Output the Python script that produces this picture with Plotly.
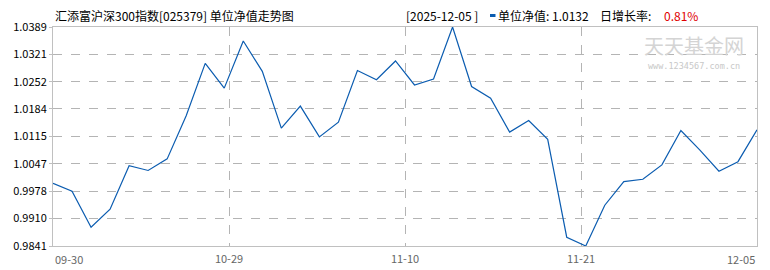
import plotly.graph_objects as go

# ---------------- data ----------------
dates = ["2025-09-30", "2025-10-10", "2025-10-17", "2025-10-20", "2025-10-21",
         "2025-10-22", "2025-10-23", "2025-10-24", "2025-10-27", "2025-10-28",
         "2025-10-29", "2025-10-30", "2025-10-31", "2025-11-03", "2025-11-04",
         "2025-11-05", "2025-11-06", "2025-11-07", "2025-11-10", "2025-11-11",
         "2025-11-12", "2025-11-13", "2025-11-14", "2025-11-17", "2025-11-18",
         "2025-11-19", "2025-11-20", "2025-11-21", "2025-11-24", "2025-11-25",
         "2025-11-26", "2025-11-27", "2025-11-28", "2025-12-01", "2025-12-02",
         "2025-12-03", "2025-12-04", "2025-12-05"]
nav = [0.9998, 0.9978, 0.9888, 0.9933, 1.0042, 1.0030, 1.0059, 1.0167, 1.0298, 1.0236,
       1.0354, 1.0278, 1.0136, 1.0191, 1.0114, 1.0151, 1.0280, 1.0257, 1.0304, 1.0244,
       1.0259, 1.0389, 1.0240, 1.0211, 1.0126, 1.0155, 1.0108, 0.9863, 0.9841, 0.9943,
       1.0002, 1.0008, 1.0044, 1.0130, 1.0081, 1.0028, 1.0052, 1.0132]
x_tick_labels = ["09-30", "10-29", "11-10", "11-21", "12-05"]
y_tick_labels = ["0.9841", "0.9910", "0.9978", "1.0047", "1.0115",
                 "1.0184", "1.0252", "1.0321", "1.0389"]
title_text = "汇添富沪深300指数[025379] 单位净值走势图"
last_date = "2025-12-05"
last_nav = "1.0132"
day_growth = "0.81%"

# ---------------- layout constants ----------------
W, H = 770, 270
ML, MR, MT, MB = 53, 13, 27, 24
PW, PH = W - ML - MR, H - MT - MB
FONT = "Noto Sans CJK SC"


def px_x(px):
    return (px - ML) / PW


def px_y(py):
    return (H - MB - py) / PH


n = len(dates)
tick_pos = [i * (n - 1) / 4 for i in range(5)]

fig = go.Figure()
fig.add_trace(go.Scatter(
    x=dates, y=nav, mode="lines",
    line=dict(color="#0b5cb0", width=1.2),
    hoverinfo="x+y", showlegend=False,
))

fig.update_layout(
    width=W, height=H,
    margin=dict(l=ML, r=MR, t=MT, b=MB, pad=0),
    paper_bgcolor="white", plot_bgcolor="white",
    font=dict(family=FONT, size=11, color="#000"),
    xaxis=dict(
        type="category", range=[0, n - 1], automargin=False,
        tickmode="array", tickvals=tick_pos[1:4], ticktext=x_tick_labels[1:4],
        showgrid=True, gridcolor="#b4b4b4", griddash="dash", gridwidth=1,
        showline=True, linecolor="#c0c0c0", linewidth=1, mirror=True,
        ticks="", ticklabelstandoff=3,
        tickfont=dict(color="#666", size=11, family=FONT),
        zeroline=False, fixedrange=True,
    ),
    yaxis=dict(
        range=[float(y_tick_labels[0]), float(y_tick_labels[-1])], automargin=False,
        tickmode="array", tickvals=[float(v) for v in y_tick_labels], ticktext=y_tick_labels,
        showgrid=True, gridcolor="#b4b4b4", griddash="dash", gridwidth=1,
        showline=True, linecolor="#c0c0c0", linewidth=1, mirror=True,
        ticks="outside", ticklen=3, tickcolor="#c0c0c0",
        tickfont=dict(color="#000", size=11, family=FONT),
        zeroline=False, fixedrange=True,
    ),
)

ann = []
# first / last x labels (left / right aligned to plot edges)
ann.append(dict(x=dates[0], y=0, xref="x", yref="paper", text=x_tick_labels[0],
                showarrow=False, xanchor="left", yanchor="top", yshift=-3,
                font=dict(color="#666", size=11, family=FONT)))
ann.append(dict(x=dates[-1], y=0, xref="x", yref="paper", text=x_tick_labels[-1],
                showarrow=False, xanchor="right", yanchor="top", yshift=-3,
                font=dict(color="#666", size=11, family=FONT)))
# title
ann.append(dict(x=px_x(53), y=px_y(15), xref="paper", yref="paper", text=title_text,
                showarrow=False, xanchor="left", yanchor="middle",
                font=dict(color="#000", size=12, family=FONT)))
# header info
ann.append(dict(x=px_x(404), y=px_y(15), xref="paper", yref="paper",
                text="[" + last_date + " ]", showarrow=False, xanchor="left", yanchor="middle",
                font=dict(color="#000", size=12, family=FONT)))
ann.append(dict(x=px_x(496), y=px_y(15), xref="paper", yref="paper",
                text="单位净值: " + last_nav, showarrow=False, xanchor="left", yanchor="middle",
                font=dict(color="#000", size=12, family=FONT)))
ann.append(dict(x=px_x(598), y=px_y(15), xref="paper", yref="paper",
                text="日增长率: ", showarrow=False, xanchor="left", yanchor="middle",
                font=dict(color="#000", size=12, family=FONT)))
ann.append(dict(x=px_x(662), y=px_y(15), xref="paper", yref="paper",
                text=day_growth, showarrow=False, xanchor="left", yanchor="middle",
                font=dict(color="#e00000", size=12, family=FONT)))
# watermark
ann.append(dict(x=px_x(694), y=px_y(45), xref="paper", yref="paper",
                text="天天基金网", showarrow=False, xanchor="center", yanchor="middle",
                font=dict(color="#d4d4d4", size=20, family=FONT)))
ann.append(dict(x=px_x(694), y=px_y(66), xref="paper", yref="paper",
                text="www.1234567.com.cn", showarrow=False, xanchor="center", yanchor="middle",
                font=dict(color="#c8c8c8", size=8.5, family="DejaVu Sans Mono")))
fig.update_layout(annotations=ann)

# legend marker next to 单位净值
fig.add_shape(type="rect", xref="paper", yref="paper",
              x0=px_x(490), x1=px_x(495.5), y0=px_y(17), y1=px_y(14),
              fillcolor="#0b5cb0", line=dict(width=0))

fig.write_html("out.html")
